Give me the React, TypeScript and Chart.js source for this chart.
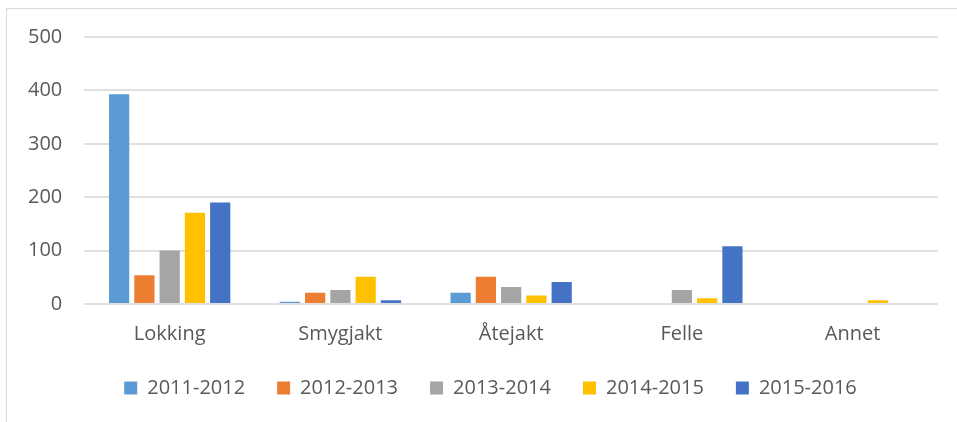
import React, { useEffect, useRef } from "react";
import { Chart, registerables } from "chart.js";

Chart.register(...registerables);

const categories = ["Lokking", "Smygjakt", "Åtejakt", "Felle", "Annet"];
const seriesNames = ["2011-2012", "2012-2013", "2013-2014", "2014-2015", "2015-2016"];
const s2011 = [393, 4, 21, 0, 0];
const s2012 = [54, 21, 51, 0, 0];
const s2013 = [100, 26, 32, 26, 0];
const s2014 = [171, 51, 16, 11, 7];
const s2015 = [190, 7, 41, 108, 0];
const seriesValues = [s2011, s2012, s2013, s2014, s2015];
const seriesColors = ["#5B9BD5", "#ED7D31", "#A5A5A5", "#FFC000", "#4472C4"];
const yTicks = [0, 100, 200, 300, 400, 500];

const legendShift = {
  id: "legendShift",
  afterLayout(chart: any) {
    if (chart.legend) {
      chart.legend.left += 37;
    }
  },
};

export default function App() {
  const ref = useRef<HTMLCanvasElement | null>(null);
  useEffect(() => {
    if (!ref.current) return;
    const font = { family: "'Open Sans', sans-serif", size: 20 };
    const chart = new Chart(ref.current, {
      type: "bar",
      data: {
        labels: categories,
        datasets: seriesNames.map((n, i) => ({
          label: n,
          data: seriesValues[i],
          backgroundColor: seriesColors[i],
          borderWidth: 0,
          categoryPercentage: 0.74,
          barPercentage: 0.8,
        })),
      },
      options: {
        animation: false,
        responsive: false,
        maintainAspectRatio: false,
        layout: { padding: { left: 6, right: 19, top: 37, bottom: 14 } },
        plugins: {
          tooltip: { enabled: false },
          legend: {
            position: "bottom",
            labels: {
              font,
              color: "#595959",
              boxWidth: 13,
              boxHeight: 13,
              padding: 32,
            },
          },
        },
        scales: {
          x: {
            grid: { display: false },
            border: { display: false },
            ticks: { font, color: "#595959", padding: 10 },
            afterFit: (scale: any) => {
              scale.height -= 10;
            },
          },
          y: {
            min: 0,
            max: 500,
            afterBuildTicks: (axis: any) => {
              axis.ticks = yTicks.map((v) => ({ value: v }));
            },
            grid: { color: "#e0e0e0", lineWidth: 2, drawTicks: false },
            border: { display: false },
            ticks: { font, color: "#595959", padding: 22 },
          },
        },
      },
      plugins: [legendShift],
    });
    return () => chart.destroy();
  }, []);
  return (
    <div style={{ position: "absolute", left: 0, top: 0, width: 957, height: 422, background: "#fff" }}>
      <div
        style={{
          position: "absolute",
          left: 6,
          top: 8,
          width: 960,
          height: 430,
          border: "1px solid #d9d9d9",
          boxSizing: "border-box",
        }}
      />
      <canvas ref={ref} width={957} height={422} style={{ position: "absolute", left: 0, top: 0 }} />
    </div>
  );
}
